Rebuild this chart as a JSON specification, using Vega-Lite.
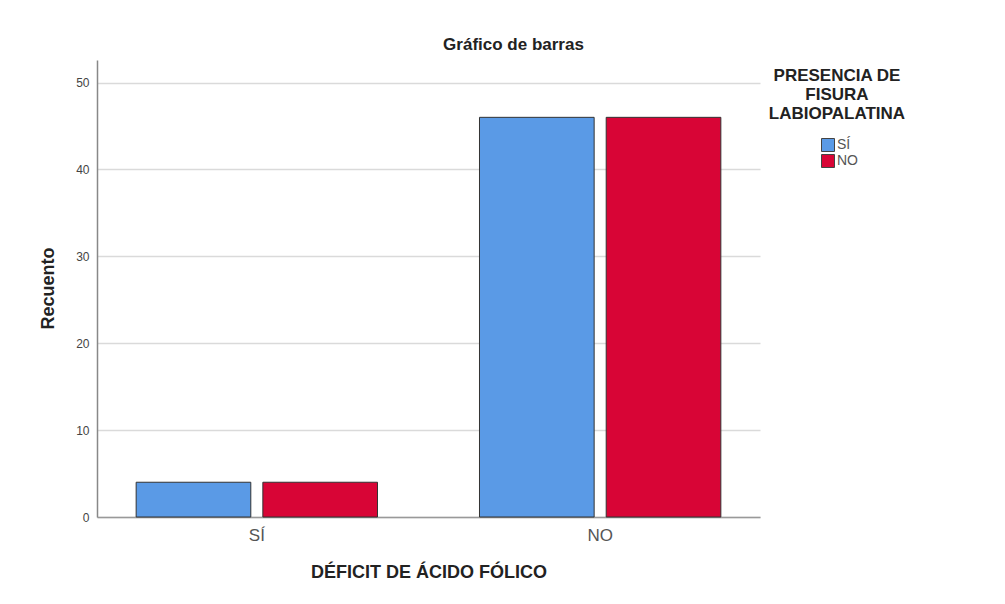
{
  "$schema": "https://vega.github.io/schema/vega-lite/v6.json",
  "width": 663,
  "height": 457,
  "autosize": {"type": "none"},
  "padding": {"left": 97, "top": 60, "right": 245, "bottom": 87},
  "background": "white",
  "title": {
    "text": "Gráfico de barras",
    "font": "Liberation Sans",
    "fontSize": 17,
    "fontWeight": "bold",
    "color": "#222222",
    "anchor": "middle",
    "dx": 85,
    "offset": 6
  },
  "data": {
    "values": [
      {"deficit": "SÍ", "fisura": "SÍ", "recuento": 4},
      {"deficit": "SÍ", "fisura": "NO", "recuento": 4},
      {"deficit": "NO", "fisura": "SÍ", "recuento": 46},
      {"deficit": "NO", "fisura": "NO", "recuento": 46}
    ]
  },
  "mark": {"type": "bar", "stroke": "#333333", "strokeWidth": 1},
  "encoding": {
    "x": {
      "field": "deficit",
      "type": "nominal",
      "sort": ["SÍ", "NO"],
      "scale": {"paddingInner": 0.297, "paddingOuter": 0.114},
      "axis": {
        "title": "DÉFICIT DE ÁCIDO FÓLICO",
        "titleFont": "Liberation Sans",
        "titleFontSize": 18,
        "titleFontWeight": "bold",
        "titleColor": "#222222",
        "titlePadding": 20,
        "labelAngle": 0,
        "labelFont": "Liberation Sans",
        "labelFontSize": 17,
        "labelColor": "#555555",
        "labelPadding": 10,
        "ticks": false,
        "domainColor": "#999999",
        "domainWidth": 1.5
      }
    },
    "xOffset": {
      "field": "fisura",
      "type": "nominal",
      "sort": ["SÍ", "NO"],
      "scale": {"paddingInner": 0.095, "paddingOuter": 0}
    },
    "y": {
      "field": "recuento",
      "type": "quantitative",
      "scale": {"domain": [0, 52.6], "nice": false},
      "axis": {
        "title": "Recuento",
        "titleFont": "Liberation Sans",
        "titleFontSize": 18,
        "titleFontWeight": "bold",
        "titleColor": "#222222",
        "titleX": -49,
        "titleY": 228,
        "titleAngle": -90,
        "titleAlign": "center",
        "titleBaseline": "middle",
        "values": [0, 10, 20, 30, 40, 50],
        "labelFont": "Liberation Sans",
        "labelFontSize": 12,
        "labelColor": "#444444",
        "labelPadding": 8,
        "ticks": false,
        "domainColor": "#888888",
        "domainWidth": 1.5,
        "grid": true,
        "gridColor": "#dadada",
        "gridWidth": 1.5
      }
    },
    "color": {
      "field": "fisura",
      "type": "nominal",
      "sort": ["SÍ", "NO"],
      "scale": {"domain": ["SÍ", "NO"], "range": ["#5A9AE6", "#D80536"]},
      "legend": {
        "title": ["PRESENCIA DE", "FISURA", "LABIOPALATINA"],
        "orient": "none",
        "legendX": 672,
        "legendY": 8,
        "padding": 0,
        "titleFont": "Liberation Sans",
        "titleFontSize": 17,
        "titleFontWeight": "bold",
        "titleColor": "#222222",
        "titleAlign": "center",
        "titleAnchor": "middle",
        "titleLineHeight": 19,
        "titlePadding": 15,
        "symbolType": "square",
        "symbolSize": 169,
        "symbolStrokeColor": "#444444",
        "symbolStrokeWidth": 1,
        "symbolOffset": 6,
        "labelFont": "Liberation Sans",
        "labelFontSize": 14,
        "labelColor": "#555555",
        "labelOffset": 2,
        "rowPadding": -3
      }
    }
  },
  "config": {
    "view": {"stroke": null}
  }
}
